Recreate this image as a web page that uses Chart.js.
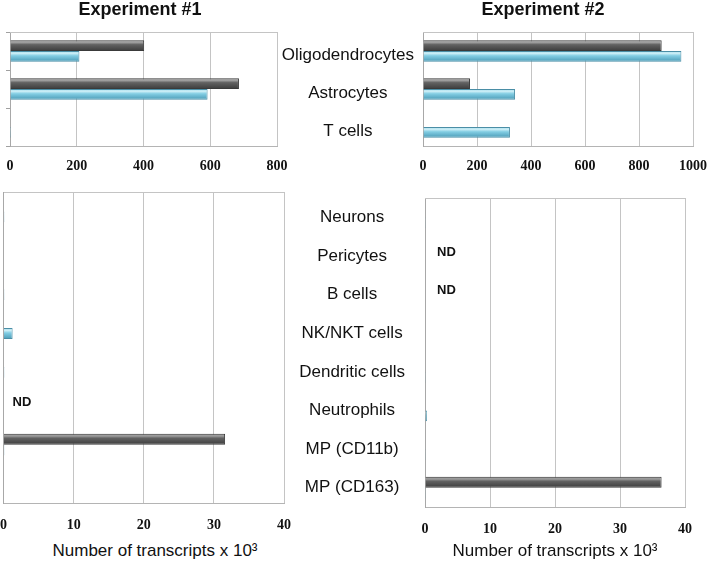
<!DOCTYPE html>
<html><head><meta charset="utf-8">
<script src="https://cdn.jsdelivr.net/npm/chart.js@4.4.1/dist/chart.umd.min.js"></script>
<style>
html,body{margin:0;padding:0;background:#fff;}
body{width:709px;height:562px;overflow:hidden;position:relative;font-family:"Liberation Sans",Arial,sans-serif;color:#111;}
.box{position:absolute;}
.title{position:absolute;font-weight:bold;font-size:18px;line-height:22px;white-space:nowrap;transform:translateX(-50%);}
.atitle{position:absolute;font-size:17px;line-height:20px;white-space:nowrap;transform:translateX(-50%);}
</style></head><body>
<div class="box" style="left:0;top:0;width:300px;height:180px"><canvas id="c1"></canvas></div>
<div class="box" style="left:280px;top:0;width:429px;height:180px"><canvas id="c2"></canvas></div>
<div class="box" style="left:0;top:185px;width:300px;height:355px"><canvas id="c3"></canvas></div>
<div class="box" style="left:280px;top:185px;width:429px;height:355px"><canvas id="c4"></canvas></div>
<div class="title" style="left:140px;top:-2px">Experiment #1</div>
<div class="title" style="left:543px;top:-2px">Experiment #2</div>
<div class="atitle" style="left:155px;top:541px">Number of transcripts x 10³</div>
<div class="atitle" style="left:555px;top:541px">Number of transcripts x 10³</div>
<script>
// ---- data ----
const seriesNames = ['Grey series', 'Blue series'];
const topCategories = ['Oligodendrocytes', 'Astrocytes', 'T cells'];
const exp1TopGrey = [402, 686, 0];
const exp1TopBlue = [208, 592, 3];
const exp2TopGrey = [884, 174, 0];
const exp2TopBlue = [957, 341, 322];
const bottomCategories = ['Neurons', 'Pericytes', 'B cells', 'NK/NKT cells', 'Dendritic cells', 'Neutrophils', 'MP (CD11b)', 'MP (CD163)'];
const exp1BottomGrey = [null, null, null, null, null, null, 31.6, null];
const exp1BottomBlue = [0.12, null, 0.12, 1.3, 0.12, null, 0.12, null];
const exp1BottomND = ['Neutrophils'];
const exp2BottomGrey = [null, null, null, null, null, null, null, 36.4];
const exp2BottomBlue = [0.12, null, null, null, 0.12, 0.3, 0.12, 0.12];
const exp2BottomND = ['Pericytes', 'B cells'];
const exp1TopTicks = [0, 200, 400, 600, 800];
const exp2TopTicks = [0, 200, 400, 600, 800, 1000];
const bottomTicks = [0, 10, 20, 30, 40];

// ---- styles ----
const greyShade = [[0, '#6e6e6e'], [0.18, '#a3a3a3'], [0.4, '#626262'], [1, '#3c3c3c']];
const blueShade = [[0, '#8fd2e6'], [0.2, '#d2f1f8'], [0.45, '#82cde3'], [1, '#4b9bb6']];
const gridColor = '#c4c4c4';
const clear = 'rgba(0,0,0,0)';
const tickFont = {family: '"Liberation Serif", "Times New Roman", serif', weight: 'bold', size: 14};
const catFont = {family: '"Liberation Sans", Arial, sans-serif', size: 17};

Chart.defaults.font.family = '"Liberation Sans", Arial, sans-serif';
Chart.defaults.color = '#111';

const barShade = {
  id: 'barShade',
  beforeDatasetsDraw(chart) {
    const ctx = chart.ctx;
    chart.data.datasets.forEach((ds, di) => {
      const meta = chart.getDatasetMeta(di);
      if (!ds.shade) return;
      meta.data.forEach(el => {
        const p = el.getProps(['y', 'height'], true);
        if (!isFinite(p.y) || !isFinite(p.height) || !p.height) return;
        const g = ctx.createLinearGradient(0, p.y - p.height / 2, 0, p.y + p.height / 2);
        ds.shade.forEach(s => g.addColorStop(s[0], s[1]));
        el.options = Object.assign({}, el.options, {backgroundColor: g});
      });
    });
  }
};
const areaBorder = {
  id: 'areaBorder',
  beforeDatasetsDraw(chart) {
    const a = chart.chartArea, ctx = chart.ctx;
    ctx.save();
    ctx.strokeStyle = gridColor; ctx.lineWidth = 1;
    ctx.beginPath();
    ctx.moveTo(Math.round(a.left), Math.round(a.top) + 0.5);
    ctx.lineTo(Math.round(a.right), Math.round(a.top) + 0.5);
    ctx.stroke();
    ctx.restore();
  }
};
const ndPlugin = {
  id: 'nd',
  afterDatasetsDraw(chart, args, opts) {
    if (!opts || !opts.list) return;
    const ctx = chart.ctx, xs = chart.scales.x, ys = chart.scales.y;
    ctx.save();
    ctx.font = 'bold 13px "Liberation Sans", Arial, sans-serif';
    ctx.fillStyle = '#111'; ctx.textBaseline = 'middle'; ctx.textAlign = 'left';
    opts.list.forEach(name => {
      const i = chart.data.labels.indexOf(name);
      if (i < 0) return;
      ctx.fillText('ND', xs.getPixelForValue(0) + opts.dx, ys.getPixelForValue(i) + opts.dy);
    });
    ctx.restore();
  }
};

function datasets(grey, blue) {
  return [
    {label: seriesNames[0], data: grey, backgroundColor: '#5a5a5a', borderColor: '#3a3a3a', borderWidth: 1, shade: greyShade},
    {label: seriesNames[1], data: blue, backgroundColor: '#7ecbe2', borderColor: '#4a8ea6', borderWidth: 1, shade: blueShade}
  ];
}

function make(id, o) {
  const yGrid = o.showLabels
    ? {drawOnChartArea: false, drawTicks: true, tickLength: o.yGap, tickColor: clear}
    : {drawOnChartArea: false, drawTicks: !!o.yTicks, tickLength: 4, color: '#a0a0a0'};
  new Chart(document.getElementById(id), {
    type: 'bar',
    data: {labels: o.labels, datasets: datasets(o.grey, o.blue)},
    options: {
      indexAxis: 'y',
      responsive: true, maintainAspectRatio: false, animation: false,
      datasets: {bar: {categoryPercentage: 0.56, barPercentage: 1}},
      layout: {padding: o.pad},
      plugins: {legend: {display: false}, tooltip: {enabled: false}, title: {display: false},
        nd: {list: o.nd || null, dx: o.ndDx || 0, dy: o.ndDy || 0}},
      scales: {
        x: {
          type: 'linear', min: o.ticks[0], max: o.ticks[o.ticks.length - 1],
          ticks: {stepSize: o.ticks[1] - o.ticks[0], font: tickFont, color: '#111', padding: 0,
                  callback: v => String(v)},
          grid: {color: gridColor, drawTicks: true, tickLength: o.xGap, tickColor: clear},
          border: {color: '#b4b4b4'},
          afterFit(s) { s.height = o.xH; }
        },
        y: {
          type: 'category',
          ticks: o.showLabels ? {display: true, font: catFont, color: '#111', crossAlign: 'center', padding: 0, labelOffset: o.labelOffset || 0}
                              : {display: false},
          grid: yGrid,
          border: {color: '#a8a8a8'},
          afterFit(s) { s.width = o.yW; }
        }
      }
    },
    plugins: [barShade, areaBorder, ndPlugin]
  });
}

make('c1', {labels: topCategories, grey: exp1TopGrey, blue: exp1TopBlue, ticks: exp1TopTicks,
  pad: {left: 0, right: 23, top: 32, bottom: 0}, xH: 34, xGap: 12, yW: 10, yTicks: true, showLabels: false});
make('c2', {labels: topCategories, grey: exp2TopGrey, blue: exp2TopBlue, ticks: exp2TopTicks,
  pad: {left: 0, right: 16, top: 32, bottom: 0}, xH: 34, xGap: 12, yW: 143, showLabels: true, yGap: 9, labelOffset: 4});
make('c3', {labels: bottomCategories, grey: exp1BottomGrey, blue: exp1BottomBlue, ticks: bottomTicks,
  pad: {left: 0, right: 16, top: 7, bottom: 0}, xH: 37, xGap: 14, yW: 3, showLabels: false,
  nd: exp1BottomND, ndDx: 9, ndDy: -3});
make('c4', {labels: bottomCategories, grey: exp2BottomGrey, blue: exp2BottomBlue, ticks: bottomTicks,
  pad: {left: 0, right: 24, top: 13, bottom: 0}, xH: 33, xGap: 14, yW: 145, showLabels: true, yGap: 20,
  nd: exp2BottomND, ndDx: 12, ndDy: -4});
</script>
</body></html>
